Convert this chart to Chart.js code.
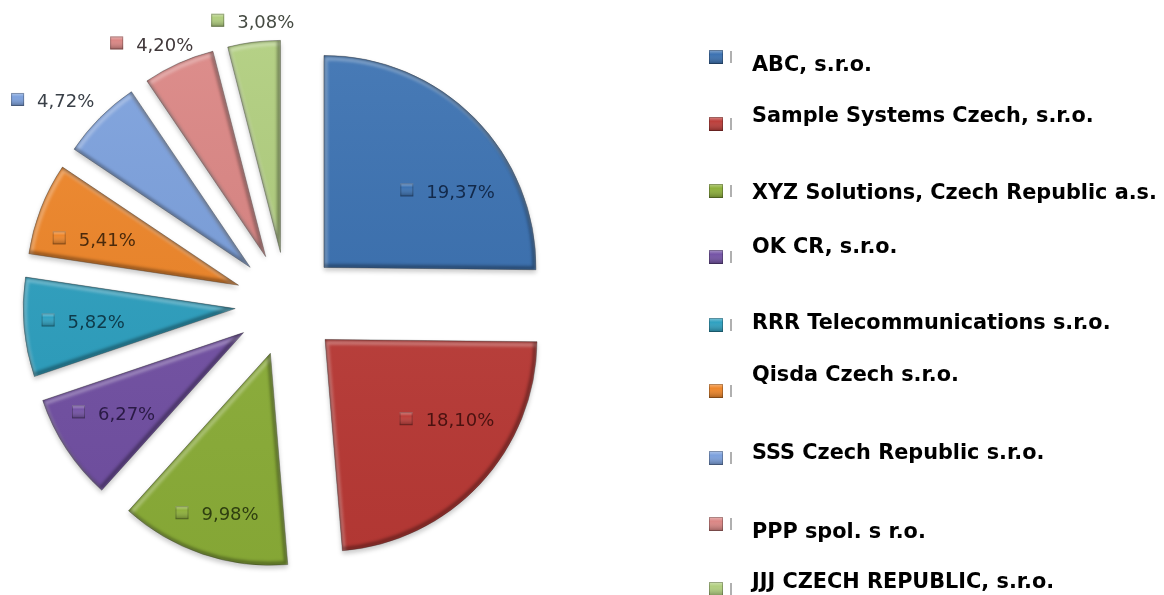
<!DOCTYPE html>
<html>
<head>
<meta charset="utf-8">
<title>Pie</title>
<script src="https://cdn.jsdelivr.net/npm/chart.js@4/dist/chart.umd.js"></script>
<style>
  html, body { margin: 0; padding: 0; background: #fff; overflow: hidden; }
  canvas { display: block; }
</style>
</head>
<body>
<canvas id="pie" width="1164" height="595"></canvas>
<script>
// values
const companies = [
  'ABC, s.r.o.',
  'Sample Systems Czech, s.r.o.',
  'XYZ Solutions, Czech Republic a.s.',
  'OK CR, s.r.o.',
  'RRR Telecommunications s.r.o.',
  'Qisda Czech s.r.o.',
  'SSS Czech Republic s.r.o.',
  'PPP spol. s r.o.',
  'JJJ CZECH REPUBLIC, s.r.o.',
];
const shares = [19.37, 18.10, 9.98, 6.27, 5.82, 5.41, 4.72, 4.20, 3.08];

// look of the slices
const sliceColors = ['#386fb0', '#bb3a36', '#8caf38', '#7250a4', '#2b9fbf', '#ee8426', '#7a9fdc', '#da8482', '#afcd7c'];
const labelColors = ['#12294a', '#4a1210', '#2f3f10', '#2a1a45', '#0e3a4a', '#4a2a0c', '#3a4048', '#40383a', '#454a42'];

// layout
const RADIUS = 212;
const EXPLODE = 52;
// shift of each value label from the middle of its slice
const labelShift = [[1, 0], [-3, 10], [-61, 62], [-83, 24], [-88, 5], [-87, -6], [-164, -90], [-112, -114], [-56, -124]];
const legendTextY = [66, 117, 194, 248, 324, 376, 454, 533, 583];
const legendMarkY = [57, 124, 191, 257, 325, 391, 458, 524, 589];

function slicePath(el) {
  const p = new Path2D();
  p.moveTo(0, 0);
  p.arc(0, 0, RADIUS, el.startAngle, el.endAngle);
  p.closePath();
  return p;
}

function drawMarker(ctx, x, y, size, color) {
  const g = ctx.createLinearGradient(0, y - size / 2, 0, y + size / 2);
  g.addColorStop(0, 'rgba(255,255,255,0.4)');
  g.addColorStop(0.3, 'rgba(255,255,255,0.02)');
  g.addColorStop(1, 'rgba(0,0,0,0.3)');
  ctx.fillStyle = color;
  ctx.fillRect(x, y - size / 2, size, size);
  ctx.fillStyle = g;
  ctx.fillRect(x, y - size / 2, size, size);
  ctx.strokeStyle = 'rgba(0,0,0,0.25)';
  ctx.lineWidth = 1;
  ctx.strokeRect(x + 0.5, y - size / 2 + 0.5, size - 1, size - 1);
}

// the arc offset option also bends radius and angle of narrow slices,
// so pull the slices out by moving the elements instead
const explode = {
  id: 'explode',
  afterDatasetsUpdate(chart) {
    chart.getDatasetMeta(0).data.forEach((el) => {
      const mid = (el.startAngle + el.endAngle) / 2;
      el.x += Math.cos(mid) * EXPLODE;
      el.y += Math.sin(mid) * EXPLODE;
    });
  },
};

const bevel = {
  id: 'bevel',
  beforeDatasetsDraw(chart) {
    const ctx = chart.ctx;
    ctx.save();
    ctx.shadowColor = 'rgba(0,0,0,0.22)';
    ctx.shadowBlur = 5;
    ctx.shadowOffsetY = 3;
  },
  afterDatasetsDraw(chart) {
    const ctx = chart.ctx;
    ctx.restore();
    chart.getDatasetMeta(0).data.forEach((el) => {
      const p = slicePath(el);
      ctx.save();
      ctx.translate(el.x, el.y);
      ctx.clip(p);
      const g = ctx.createLinearGradient(0, -RADIUS, 0, RADIUS);
      g.addColorStop(0, 'rgba(255,255,255,0.08)');
      g.addColorStop(1, 'rgba(0,0,0,0.05)');
      ctx.fillStyle = g;
      ctx.fill(p);
      ctx.filter = 'blur(1.5px)';
      ctx.lineWidth = 4;
      ctx.lineJoin = 'round';
      ctx.save();
      ctx.translate(1.5, 3);
      ctx.strokeStyle = 'rgba(255,255,255,0.3)';
      ctx.stroke(p);
      ctx.restore();
      ctx.translate(-1.5, -1.5);
      ctx.strokeStyle = 'rgba(0,0,0,0.35)';
      ctx.stroke(p);
      ctx.restore();
    });
  },
};

const sliceLabels = {
  id: 'sliceLabels',
  afterDraw(chart) {
    const ctx = chart.ctx;
    ctx.save();
    ctx.textBaseline = 'middle';
    chart.getDatasetMeta(0).data.forEach((el, i) => {
      const mid = (el.startAngle + el.endAngle) / 2;
      const x = el.x + Math.cos(mid) * RADIUS / 2 + labelShift[i][0];
      const y = el.y + Math.sin(mid) * RADIUS / 2 + labelShift[i][1];
      drawMarker(ctx, x, y - 3, 13, sliceColors[i]);
      ctx.fillStyle = labelColors[i];
      ctx.font = '18px "DejaVu Sans"';
      ctx.fillText(shares[i].toFixed(2).replace('.', ',') + '%', x + 26, y);
    });
    // legend on the right
    companies.forEach((name, i) => {
      drawMarker(ctx, 709, legendMarkY[i], 14, sliceColors[i]);
      ctx.fillStyle = '#b0b0b0';
      ctx.fillRect(730, legendMarkY[i] - 6, 2, 12);
      ctx.fillStyle = '#000';
      ctx.font = 'bold 20.8px "DejaVu Sans"';
      ctx.fillText(name, 752, legendTextY[i]);
    });
    ctx.restore();
  },
};

new Chart(document.getElementById('pie'), {
  type: 'pie',
  data: {
    labels: companies,
    datasets: [{
      data: shares,
      backgroundColor: sliceColors,
      borderColor: 'rgba(30,30,30,0.35)',
      borderWidth: 1,
      radius: RADIUS,
      clip: false,
    }],
  },
  options: {
    responsive: false,
    animation: false,
    layout: { padding: { left: 0, right: 590, top: 13, bottom: 0 } },
    plugins: { legend: { display: false }, tooltip: { enabled: false } },
  },
  plugins: [explode, bevel, sliceLabels],
});
</script>
</body>
</html>
